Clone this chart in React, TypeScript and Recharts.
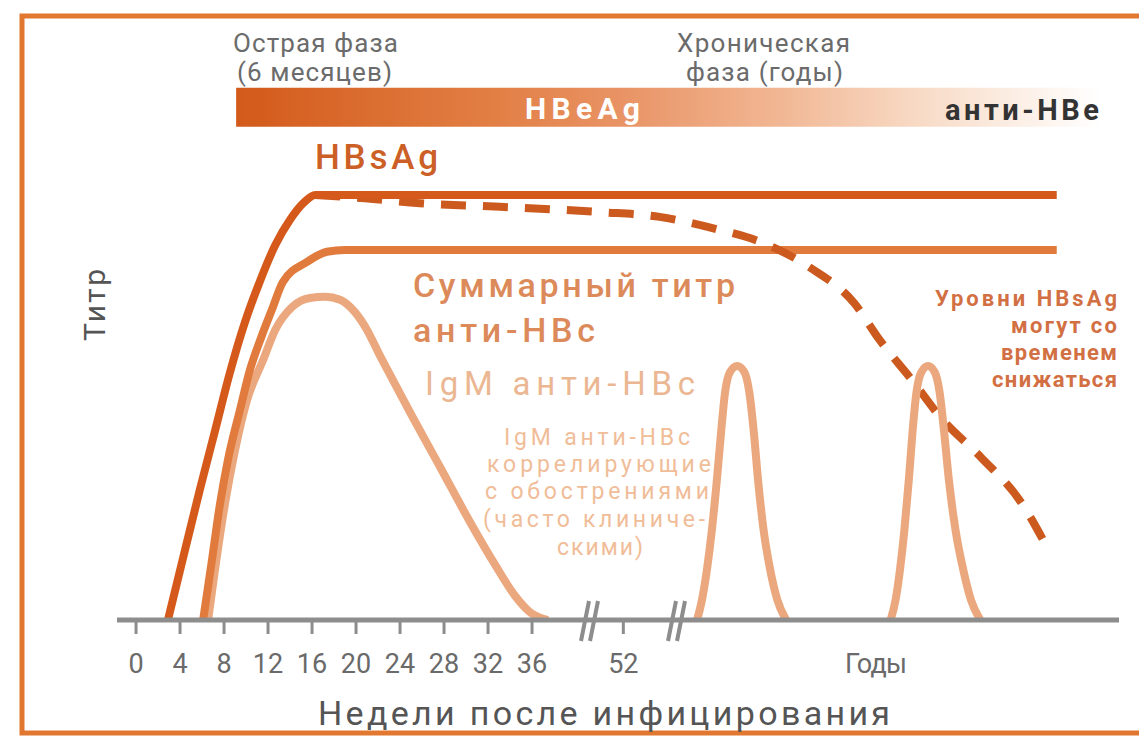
import React from 'react';
import { LineChart, Line, XAxis, YAxis, ReferenceArea } from 'recharts';

// x: position along the axis in "weeks" (the part after 36 weeks is compressed), y: titre (0-100)
const hbsAg = [
  { t: 2.9, v: 0 }, { t: 4.45, v: 11.8 }, { t: 5.8, v: 22 }, { t: 7.2, v: 32.1 },
  { t: 8.55, v: 41.9 }, { t: 9.9, v: 50.3 }, { t: 11.3, v: 57.4 }, { t: 12.65, v: 63.3 },
  { t: 14, v: 67.6 }, { t: 15.2, v: 70.4 }, { t: 16.3, v: 71.8 }, { t: 40, v: 71.8 },
  { t: 83.7, v: 71.8 },
];

const hbsAgDecline = [
  { t: 16.3, v: 71.8 }, { t: 20.4, v: 71.3 }, { t: 25.8, v: 70.4 }, { t: 33.1, v: 69.8 },
  { t: 42.2, v: 68.9 }, { t: 47.6, v: 68.1 }, { t: 52.4, v: 66.2 }, { t: 57, v: 63.7 },
  { t: 61.3, v: 59.5 }, { t: 65.3, v: 53.5 }, { t: 67.6, v: 47.3 }, { t: 70.6, v: 40.4 },
  { t: 73.2, v: 34.1 }, { t: 76.8, v: 27.5 }, { t: 80.45, v: 19.9 }, { t: 83.1, v: 11.3 },
];

const totalAntiHbc = [
  { t: 6.1, v: 0 }, { t: 6.9, v: 10.1 }, { t: 7.65, v: 19.8 }, { t: 8.35, v: 27 },
  { t: 9.45, v: 35.5 }, { t: 10.35, v: 42.2 }, { t: 11.45, v: 48.1 }, { t: 12.35, v: 52.4 },
  { t: 13.35, v: 57.1 }, { t: 15.55, v: 60.5 }, { t: 17.35, v: 62.2 }, { t: 19, v: 62.5 },
  { t: 83.7, v: 62.5 },
];

const igmAcute = [
  { t: 6.55, v: 0 }, { t: 7.3, v: 10.1 }, { t: 8.1, v: 19.8 }, { t: 9, v: 28.7 },
  { t: 10.1, v: 37.2 }, { t: 11.55, v: 43.9 }, { t: 12.65, v: 49 }, { t: 14.2, v: 52.9 },
  { t: 15.8, v: 54.4 }, { t: 17.2, v: 54.6 }, { t: 18.55, v: 54.1 }, { t: 19.9, v: 52 },
  { t: 21, v: 49 }, { t: 22, v: 45.3 }, { t: 23.1, v: 41.4 }, { t: 24.9, v: 35.1 },
  { t: 27.65, v: 25.8 }, { t: 30.35, v: 16.6 }, { t: 32.65, v: 9.3 }, { t: 34.45, v: 4.1 },
  { t: 35.8, v: 1.35 }, { t: 37.45, v: 0 },
];

const igmFlare1 = [
  { t: 51.0, v: 0 }, { t: 51.45, v: 3.4 }, { t: 51.9, v: 8.5 }, { t: 52.35, v: 15.2 },
  { t: 52.8, v: 23.6 }, { t: 53.2, v: 32 }, { t: 53.55, v: 38.5 }, { t: 54, v: 41.9 },
  { t: 54.65, v: 42.9 }, { t: 55.3, v: 41.9 }, { t: 55.75, v: 38.5 }, { t: 56.15, v: 32 },
  { t: 56.55, v: 23.6 }, { t: 57.05, v: 15.2 }, { t: 57.65, v: 8.5 }, { t: 58.3, v: 3.4 },
  { t: 59.1, v: 0 },
];

const igmFlare2 = [
  { t: 68.6, v: 0 }, { t: 69.05, v: 3.4 }, { t: 69.45, v: 8.5 }, { t: 69.85, v: 15.2 },
  { t: 70.25, v: 23.6 }, { t: 70.6, v: 32 }, { t: 70.95, v: 38.5 }, { t: 71.4, v: 41.9 },
  { t: 72, v: 42.9 }, { t: 72.6, v: 41.9 }, { t: 73.05, v: 38.5 }, { t: 73.45, v: 32 },
  { t: 73.9, v: 23.6 }, { t: 74.5, v: 15.2 }, { t: 75.2, v: 8.5 }, { t: 75.9, v: 3.4 },
  { t: 76.75, v: 0 },
];

const tickPositions = [0, 4, 8, 12, 16, 20, 24, 28, 32, 36, 44.3];
const tickLabels = ['0', '4', '8', '12', '16', '20', '24', '28', '32', '36', '52'];

// HBeAg -> анти-HBe band
const phaseBand = { x1: 9.1, x2: 87.6, y1: 83.3, y2: 89.9 };

const FONT = "Roboto, 'DejaVu Sans', sans-serif";
const AXIS = '#8d8d8d';

function WeekTick(props: any) {
  const { x, payload } = props;
  const i = tickPositions.indexOf(payload.value);
  return (
    <text x={x} y={673} textAnchor="middle" fontFamily={FONT} fontSize={27} fill="#6a6a6a">
      {tickLabels[i]}
    </text>
  );
}

function Txt({ x, y, w, size, color, weight = 400, anchor = 'start', children }: any) {
  return (
    <text
      x={x}
      y={y}
      fontFamily={FONT}
      fontSize={size}
      fontWeight={weight}
      fill={color}
      textAnchor={anchor}
      textLength={w}
      lengthAdjust="spacing"
    >
      {children}
    </text>
  );
}

export default function App() {
  return (
    <div style={{ position: 'absolute', left: 0, top: 0, width: 1139, height: 737, background: '#fff', overflow: 'hidden' }}>
      <svg width={0} height={0} style={{ position: 'absolute' }}>
        <defs>
          <linearGradient id="bandGrad" x1="0" y1="0" x2="1" y2="0">
            <stop offset="0%" stopColor="#d35a1a" />
            <stop offset="30%" stopColor="#e27f45" />
            <stop offset="45%" stopColor="#e99466" />
            <stop offset="62%" stopColor="#f1b591" />
            <stop offset="80%" stopColor="#f8dcc8" />
            <stop offset="100%" stopColor="#ffffff" />
          </linearGradient>
        </defs>
      </svg>
      <LineChart
        width={1139}
        height={737}
        margin={{ top: 28, right: 20, bottom: 67, left: 117 }}
      >
        <XAxis
          dataKey="t"
          type="number"
          domain={[-1.73, 89.36]}
          allowDataOverflow
          ticks={tickPositions}
          tick={<WeekTick />}
          tickSize={14}
          tickLine={{ stroke: AXIS, strokeWidth: 3 }}
          axisLine={{ stroke: AXIS, strokeWidth: 5 }}
          height={50}
          interval={0}
        />
        <YAxis
          type="number"
          domain={[0, 100]}
          allowDataOverflow
          width={0}
          tick={false}
          tickLine={false}
          axisLine={{ stroke: AXIS, strokeWidth: 5 }}
        />
        <ReferenceArea
          x1={phaseBand.x1}
          x2={phaseBand.x2}
          y1={phaseBand.y1}
          y2={phaseBand.y2}
          fill="url(#bandGrad)"
          fillOpacity={1}
          stroke="none"
          ifOverflow="visible"
        />
        <Line data={igmAcute} dataKey="v" type="monotone" stroke="#eba87e" strokeWidth={8} dot={false} isAnimationActive={false} />
        <Line data={igmFlare1} dataKey="v" type="monotone" stroke="#eba87e" strokeWidth={8} dot={false} isAnimationActive={false} />
        <Line data={totalAntiHbc} dataKey="v" type="monotone" stroke="#e07b3d" strokeWidth={8} dot={false} isAnimationActive={false} />
        <Line data={hbsAgDecline} dataKey="v" type="monotone" stroke="#cc5a1e" strokeWidth={8} strokeDasharray="25 17" strokeLinecap="butt" dot={false} isAnimationActive={false} />
        <Line data={igmFlare2} dataKey="v" type="monotone" stroke="#eba87e" strokeWidth={8} dot={false} isAnimationActive={false} />
        <Line data={hbsAg} dataKey="v" type="monotone" stroke="#d4591b" strokeWidth={8} dot={false} isAnimationActive={false} />
      </LineChart>

      <svg width={1139} height={737} style={{ position: 'absolute', left: 0, top: 0, pointerEvents: 'none' }}>
        <rect x={22} y={16} width={1140} height={717} fill="none" stroke="#e2772f" strokeWidth={5} />

        {/* axis breaks */}
        <g stroke={AXIS} strokeWidth={4}>
          <line x1={581} y1={641} x2={589} y2={601} />
          <line x1={590} y1={641} x2={598} y2={601} />
          <line x1={668} y1={641} x2={676} y2={601} />
          <line x1={677} y1={641} x2={685} y2={601} />
        </g>

        <Txt x={233} y={52} w={165} size={26} color="#6b6b6b">Острая фаза</Txt>
        <Txt x={237} y={81} w={155} size={26} color="#6b6b6b">(6 месяцев)</Txt>
        <Txt x={677} y={52} w={173} size={26} color="#6b6b6b">Хроническая</Txt>
        <Txt x={686} y={81} w={157} size={26} color="#6b6b6b">фаза (годы)</Txt>

        <Txt x={525} y={119} w={115} size={30} weight={700} color="#ffffff">HBeAg</Txt>
        <Txt x={945} y={120} w={154} size={29} weight={700} color="#333333">анти-HBe</Txt>

        <Txt x={315} y={169} w={123} size={35} weight={500} color="#cc5f26">HBsAg</Txt>

        <Txt x={413} y={297} w={322} size={34} weight={500} color="#dc8a5a">Суммарный титр</Txt>
        <Txt x={413} y={342} w={182} size={34} weight={500} color="#dc8a5a">анти-HBc</Txt>
        <Txt x={425} y={395} w={270} size={33} color="#ebb792">IgM анти-HBc</Txt>

        <Txt x={597} y={445} w={186} size={23} color="#f0bd98" anchor="middle">IgM анти-HBc</Txt>
        <Txt x={599} y={472} w={224} size={23} color="#f0bd98" anchor="middle">коррелирующие</Txt>
        <Txt x={597} y={499} w={224} size={23} color="#f0bd98" anchor="middle">с обострениями</Txt>
        <Txt x={594} y={527} w={222} size={23} color="#f0bd98" anchor="middle">(часто клиниче-</Txt>
        <Txt x={600} y={555} w={86} size={23} color="#f0bd98" anchor="middle">скими)</Txt>

        <Txt x={1117} y={306} w={182} size={22} weight={700} color="#d27043" anchor="end">Уровни HBsAg</Txt>
        <Txt x={1117} y={333} w={106} size={22} weight={700} color="#d27043" anchor="end">могут со</Txt>
        <Txt x={1117} y={360} w={116} size={22} weight={700} color="#d27043" anchor="end">временем</Txt>
        <Txt x={1117} y={387} w={125} size={22} weight={700} color="#d27043" anchor="end">снижаться</Txt>

        <g transform="translate(105 305) rotate(-90)">
          <Txt x={0} y={0} w={72} size={30} color="#555555" anchor="middle">Титр</Txt>
        </g>

        <Txt x={876} y={673} w={62} size={27} color="#6a6a6a" anchor="middle">Годы</Txt>
        <Txt x={604} y={725} w={572} size={34} color="#555555" anchor="middle">Недели после инфицирования</Txt>
      </svg>
    </div>
  );
}
